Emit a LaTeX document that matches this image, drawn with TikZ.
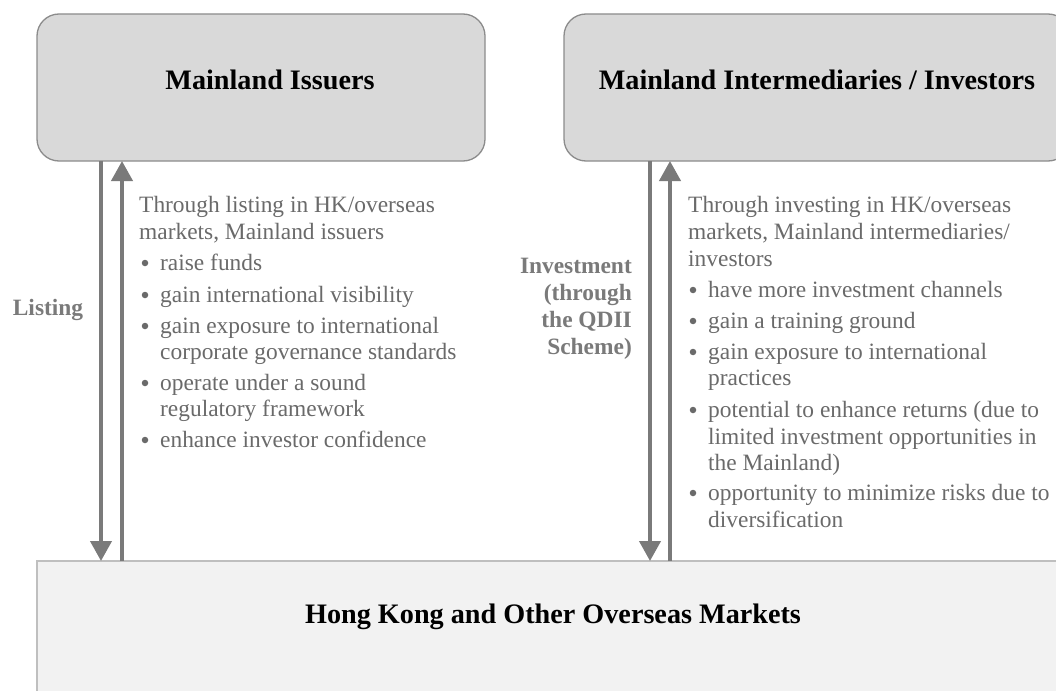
\documentclass[tikz,border=0pt]{standalone}
\usepackage{fontspec}
\setmainfont{Liberation Serif}
\usetikzlibrary{arrows.meta}
\definecolor{boxfill}{HTML}{D9D9D9}
\definecolor{boxline}{HTML}{8C8C8C}
\definecolor{basefill}{HTML}{F2F2F2}
\definecolor{baseline}{HTML}{BFBFBF}
\definecolor{arrowgray}{HTML}{7A7A7A}
\definecolor{bodygray}{HTML}{6A6A6A}
\tikzset{
  topbox/.style={draw=boxline, fill=boxfill, line width=1.3pt, rounded corners=22pt},
  basebox/.style={draw=baseline, fill=basefill, line width=1.3pt},
  heading/.style={font=\fontsize{28.2}{32}\selectfont\bfseries, text=black, inner sep=0pt},
  flow/.style={draw=arrowgray, line width=4pt, -{Triangle[length=20pt,width=21pt]}},
  sidelabel/.style={font=\fontsize{23.4}{27}\selectfont\bfseries, text=arrowgray, inner sep=0pt, align=right},
  body/.style={font=\fontsize{23.4}{27}\selectfont, text=bodygray, inner sep=0pt, anchor=base west},
  dot/.style={circle, fill=bodygray, inner sep=0pt, minimum size=6.5pt},
}
\begin{document}
\begin{tikzpicture}[x=1pt, y=-1pt]
\clip (0,0) rectangle (1056,690);
\fill[white] (0,0) rectangle (1056,690);
% boxes
\draw[topbox] (37,14) rectangle (485,161);
\draw[topbox] (564,14) rectangle (1070,161);
\draw[basebox] (37,561) rectangle (1075,720);
\node[heading] (issuers) at (270,80) {Mainland Issuers};
\node[heading] (inter) at (817,80) {Mainland Intermediaries / Investors};
\node[heading] (hk) at (553,617) {Hong Kong and Other Overseas Markets};
% connector end points
\coordinate (l1t) at (101,161); \coordinate (l1b) at (101,561);
\coordinate (l2t) at (122,161); \coordinate (l2b) at (122,561);
\coordinate (r1t) at (650,161); \coordinate (r1b) at (650,561);
\coordinate (r2t) at (670,161); \coordinate (r2b) at (670,561);
\draw[flow] (l1t) -- (l1b);
\draw[flow] (l2b) -- (l2t);
\draw[flow] (r1t) -- (r1b);
\draw[flow] (r2b) -- (r2t);
% side labels
\node[sidelabel, anchor=center] (listing) at (48,310) {Listing};
\node[sidelabel, anchor=east] (invest) at (632,309) {Investment\\(through\\the QDII\\Scheme)};
% left text
\node[body] (lt1) at (139,212) {Through listing in HK/overseas};
\node[body] (lt2) at (139,239) {markets, Mainland issuers};
\node[dot] (lb1) at (145,263) {};
\node[body] (la1) at (160,270) {raise funds};
\node[dot] (lb2) at (145,295) {};
\node[body] (la2) at (160,302) {gain international visibility};
\node[dot] (lb3) at (145,326) {};
\node[body] (la3) at (160,333) {gain exposure to international};
\node[body] (la3b) at (160,359) {corporate governance standards};
\node[dot] (lb4) at (145,383) {};
\node[body] (la4) at (160,390) {operate under a sound};
\node[body] (la4b) at (160,416) {regulatory framework};
\node[dot] (lb5) at (145,440) {};
\node[body] (la5) at (160,447) {enhance investor confidence};
% right text
\node[body] (rt1) at (688,212) {Through investing in HK/overseas};
\node[body] (rt2) at (688,239) {markets, Mainland intermediaries/};
\node[body] (rt3) at (688,266) {investors};
\node[dot] (rb1) at (693,290) {};
\node[body] (ra1) at (708,297) {have more investment channels};
\node[dot] (rb2) at (693,321) {};
\node[body] (ra2) at (708,328) {gain a training ground};
\node[dot] (rb3) at (693,352) {};
\node[body] (ra3) at (708,359) {gain exposure to international};
\node[body] (ra3b) at (708,385) {practices};
\node[dot] (rb4) at (693,410) {};
\node[body] (ra4) at (708,417) {potential to enhance returns (due to};
\node[body] (ra4b) at (708,444) {limited investment opportunities in};
\node[body] (ra4c) at (708,470) {the Mainland)};
\node[dot] (rb5) at (693,493) {};
\node[body] (ra5) at (708,500) {opportunity to minimize risks due to};
\node[body] (ra5b) at (708,527) {diversification};
\end{tikzpicture}
\end{document}
